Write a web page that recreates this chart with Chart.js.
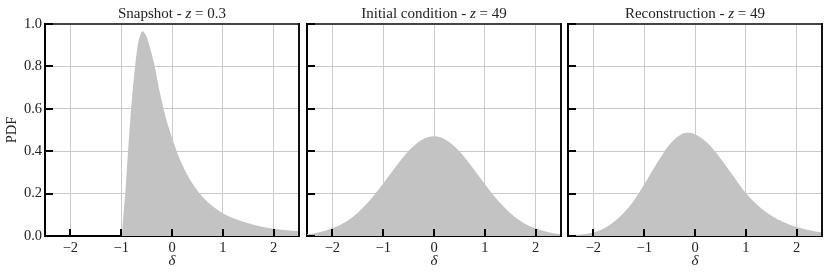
<html>
<head>
    <title>PDF</title>
    <script src="https://cdn.jsdelivr.net/npm/chart.js"></script>
    <style>
        body { margin: 0; background: #fff; }
        canvas { position: absolute; top: 0; }
    </style>
</head>
<body>
<canvas id="c1" width="301" height="277" style="left:0px"></canvas>
<canvas id="c2" width="263" height="277" style="left:300px"></canvas>
<canvas id="c3" width="263" height="277" style="left:561px"></canvas>
<script>
    // tick labels
    const xTicks = [-2, -1, 0, 1, 2];
    const yTicks = [0, 0.2, 0.4, 0.6, 0.8, 1.0];

    // Snapshot - z = 0.3
    const snapX = [-2.5, -0.99, -0.96, -0.92, -0.865, -0.805, -0.727, -0.67, -0.62, -0.58, -0.54, -0.5, -0.455, -0.4, -0.34, -0.25, -0.17, -0.08, 0, 0.15, 0.3, 0.45, 0.6, 0.8, 1.0, 1.25, 1.5, 1.75, 2.0, 2.25, 2.5];
    const snapY = [0, 0, 0.09, 0.2, 0.4, 0.6, 0.8, 0.906, 0.95, 0.966, 0.958, 0.94, 0.906, 0.86, 0.8, 0.689, 0.604, 0.522, 0.463, 0.365, 0.289, 0.231, 0.185, 0.14, 0.107, 0.08, 0.06, 0.045, 0.034, 0.027, 0.022];

    // Initial condition - z = 49
    const icX = [-2.5, -2.25, -2, -1.75, -1.5, -1.25, -1, -0.75, -0.5, -0.25, 0, 0.25, 0.5, 0.75, 1, 1.25, 1.5, 1.75, 2, 2.25, 2.5];
    const icY = [0.008, 0.018, 0.036, 0.065, 0.11, 0.172, 0.248, 0.328, 0.401, 0.452, 0.47, 0.451, 0.4, 0.326, 0.245, 0.17, 0.109, 0.064, 0.035, 0.018, 0.008];

    // Reconstruction - z = 49
    const recX = [-2.5, -2.25, -2, -1.75, -1.5, -1.25, -1, -0.75, -0.5, -0.25, -0.15, 0, 0.25, 0.5, 0.75, 1, 1.25, 1.5, 1.75, 2, 2.25, 2.5];
    const recY = [0.003, 0.007, 0.017, 0.041, 0.086, 0.152, 0.243, 0.343, 0.432, 0.482, 0.487, 0.48, 0.437, 0.367, 0.284, 0.203, 0.142, 0.097, 0.065, 0.042, 0.027, 0.017];

    const titles = [
        ['Snapshot - ', 'z', ' = 0.3'],
        ['Initial condition - ', 'z', ' = 49'],
        ['Reconstruction - ', 'z', ' = 49']
    ];

    const serif = "'Liberation Serif', 'DejaVu Serif', serif";

    // title with italic z, inward ticks and frame
    const panelDeco = {
        id: 'panelDeco',
        afterDatasetsDraw(chart) {
            const ctx = chart.ctx;
            const a = chart.chartArea;
            const xs = chart.scales.x, ys = chart.scales.y;
            ctx.save();
            // frame top / right
            ctx.lineWidth = 2;
            ctx.strokeStyle = '#444';
            ctx.beginPath(); ctx.moveTo(a.left, a.top); ctx.lineTo(a.right, a.top); ctx.stroke();
            ctx.strokeStyle = '#111';
            ctx.beginPath(); ctx.moveTo(a.right, a.top - 1); ctx.lineTo(a.right, a.bottom); ctx.stroke();
            // inward ticks
            ctx.strokeStyle = '#000';
            xTicks.forEach(v => {
                const px = Math.round(xs.getPixelForValue(v));
                ctx.beginPath(); ctx.moveTo(px, a.bottom); ctx.lineTo(px, a.bottom - 7); ctx.stroke();
            });
            yTicks.forEach(v => {
                const py = Math.round(ys.getPixelForValue(v));
                ctx.beginPath(); ctx.moveTo(a.left, py); ctx.lineTo(a.left + 8, py); ctx.stroke();
            });
            // title
            const parts = chart.options.plugins.panelDeco.parts;
            const fonts = ['15px ' + serif, 'italic 15px ' + serif, '15px ' + serif];
            let w = 0;
            parts.forEach((p, i) => { ctx.font = fonts[i]; w += ctx.measureText(p).width; });
            let x = (a.left + a.right) / 2 - w / 2;
            ctx.fillStyle = '#222';
            ctx.textBaseline = 'alphabetic';
            ctx.textAlign = 'left';
            parts.forEach((p, i) => {
                ctx.font = fonts[i];
                ctx.fillText(p, x, 18);
                x += ctx.measureText(p).width;
            });
            ctx.restore();
        }
    };

    function makePanel(id, xs, ys, idx) {
        const first = idx === 0;
        const points = xs.map((x, i) => ({x: x, y: ys[i]}));
        new Chart(document.getElementById(id), {
            type: 'line',
            data: {
                datasets: [{
                    data: points,
                    fill: 'origin',
                    backgroundColor: '#c3c3c3',
                    borderWidth: 0,
                    pointRadius: 0,
                    cubicInterpolationMode: 'monotone'
                }]
            },
            options: {
                responsive: false,
                animation: false,
                layout: { padding: { top: 24, right: 2, left: 0, bottom: 0 } },
                plugins: {
                    legend: { display: false },
                    tooltip: { enabled: false },
                    panelDeco: { parts: titles[idx] }
                },
                scales: {
                    x: {
                        type: 'linear',
                        min: -2.5,
                        max: 2.5,
                        afterBuildTicks: s => { s.ticks = xTicks.map(v => ({value: v})); },
                        afterFit: s => { s.height = 41; },
                        grid: { color: '#cacaca', lineWidth: 1, drawTicks: false },
                        border: { color: '#000', width: 2 },
                        ticks: {
                            color: '#222',
                            padding: 3,
                            font: { family: serif, size: 14.5 },
                            callback: v => String(v).replace('-', '\u2212')
                        },
                        title: {
                            display: true,
                            text: '\u03b4',
                            color: '#222',
                            padding: { top: 0, bottom: 7 },
                            font: { family: serif, size: 15, style: 'italic' }
                        }
                    },
                    y: {
                        min: 0,
                        max: 1,
                        afterBuildTicks: s => { s.ticks = yTicks.map(v => ({value: v})); },
                        afterFit: s => { s.width = first ? 45 : 7; },
                        grid: { color: '#cacaca', lineWidth: 1, drawTicks: false },
                        border: { color: '#000', width: 2 },
                        ticks: {
                            display: first,
                            color: '#222',
                            padding: 3,
                            font: { family: serif, size: 14.5 },
                            callback: v => v.toFixed(1)
                        },
                        title: {
                            display: first,
                            text: 'PDF',
                            color: '#222',
                            padding: { top: 3, bottom: 0 },
                            font: { family: serif, size: 14.5 }
                        }
                    }
                }
            },
            plugins: [panelDeco]
        });
    }

    makePanel('c1', snapX, snapY, 0);
    makePanel('c2', icX, icY, 1);
    makePanel('c3', recX, recY, 2);
</script>
</body>
</html>
